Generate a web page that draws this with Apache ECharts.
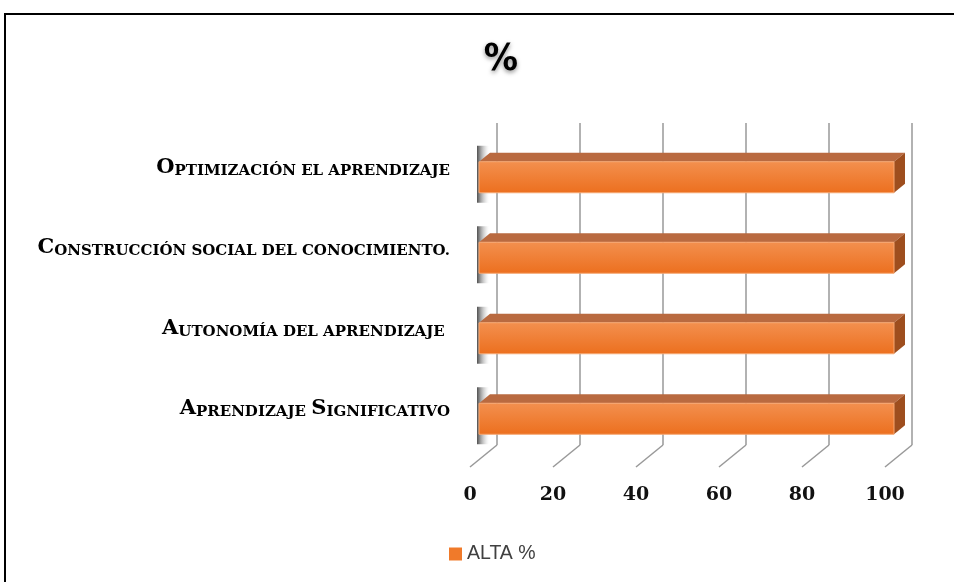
<!DOCTYPE html>
<html>
<head>
<meta charset="utf-8">
<script src="https://cdn.jsdelivr.net/npm/echarts@6/dist/echarts.min.js"></script>
<style>
  html, body { margin: 0; padding: 0; background: #fff; }
  #chart { width: 954px; height: 582px; }
</style>
</head>
<body>
<div id="chart"></div>
<script>
// bottom to top, as the category axis draws them
var categorias = [
  "Aprendizaje Significativo",
  "Autonomía del aprendizaje ",
  "Construcción social del conocimiento.",
  "Optimización el aprendizaje"
];
var alta = [100, 100, 100, 100];
var ticks = [0, 20, 40, 60, 80, 100];

// small caps like the original font: capitals big, the rest upper but smaller
function versalitas(s) {
  var out = "", run = "", kind = null;
  for (var ch of s) {
    var k = (ch !== ch.toLowerCase()) ? "b" : "s";
    if (kind && k !== kind && run) { out += "{" + kind + "|" + run + "}"; run = ""; }
    kind = k;
    run += k === "s" ? ch.toUpperCase() : ch;
  }
  if (run) out += "{" + kind + "|" + run + "}";
  return out;
}

function renderBarra(params, api) {
  var v = api.value(0), c = api.value(1);
  var a = api.coord([0, c]);
  var b = api.coord([v, c]);
  var h = 31, dx = 11, dy = -9;
  var x0 = a[0] - 18, x1 = b[0] - 18;
  var yc = a[1] + 14;
  var yt = yc - h / 2, yb = yc + h / 2;
  return {
    type: "group",
    children: [
      { // wall shadow at the left end
        type: "rect",
        shape: { x: x0 - 2, y: yt - 16, width: 12, height: h + 26 },
        style: {
          fill: new echarts.graphic.LinearGradient(0, 0, 1, 0, [
            { offset: 0, color: "rgba(70,70,70,0.95)" },
            { offset: 1, color: "rgba(200,200,200,0)" }
          ])
        }
      },
      {
        type: "polygon",
        shape: { points: [[x0, yt], [x1, yt], [x1 + dx, yt + dy], [x0 + dx, yt + dy]] },
        style: { fill: "#B96A40" }
      },
      {
        type: "polygon",
        shape: { points: [[x1, yt], [x1 + dx, yt + dy], [x1 + dx, yb + dy], [x1, yb]] },
        style: { fill: "#9E4E1E" }
      },
      {
        type: "rect",
        shape: { x: x0, y: yt, width: x1 - x0, height: h },
        style: {
          fill: new echarts.graphic.LinearGradient(0, 0, 0, 1, [
            { offset: 0, color: "#F3904F" },
            { offset: 1, color: "#EC6F1E" }
          ]),
          stroke: "#F6A772",
          lineWidth: 1
        }
      }
    ]
  };
}

function renderPiso(params, api) {
  var x = api.coord([api.value(0), 0])[0];
  var yb = params.coordSys.y + params.coordSys.height;
  return {
    type: "line",
    shape: { x1: x, y1: yb, x2: x - 27, y2: yb + 22 },
    style: { stroke: "#999", lineWidth: 1.5 }
  };
}

var chart = echarts.init(document.getElementById("chart"));
chart.setOption({
  animation: false,
  title: {
    text: "%",
    left: 496,
    top: 36,
    textAlign: "center",
    textStyle: {
      fontFamily: "DejaVu Sans Condensed, Liberation Sans, sans-serif",
      fontSize: 38,
      fontWeight: "bold",
      color: "#000",
      textShadowColor: "rgba(0,0,0,0.45)",
      textShadowBlur: 4,
      textShadowOffsetY: 2
    }
  },
  legend: {
    left: 449,
    top: 544,
    padding: 0,
    itemWidth: 13,
    itemHeight: 13,
    itemGap: 6,
    icon: "rect",
    data: ["ALTA %"],
    textStyle: { fontFamily: "Liberation Sans, sans-serif", fontSize: 19.5, color: "#404040" }
  },
  graphic: [{
    type: "rect",
    silent: true,
    shape: { x: 5, y: 14, width: 1000, height: 700 },
    style: { fill: "none", stroke: "#000", lineWidth: 2 }
  }],
  grid: [
    { left: 497, right: 42, top: 123, bottom: 137 },
    { left: 470, right: 69, top: 123, bottom: 137 }
  ],
  xAxis: [
    {
      gridIndex: 0, type: "value", min: 0, max: 100, interval: 20,
      axisLabel: { show: false }, axisLine: { show: false }, axisTick: { show: false },
      splitLine: { show: true, lineStyle: { color: "#999", width: 1.5 } }
    },
    {
      gridIndex: 1, type: "value", min: 0, max: 100, interval: 20,
      axisLine: { show: false }, axisTick: { show: false }, splitLine: { show: false },
      axisLabel: {
        margin: 41,
        fontFamily: "DejaVu Serif, serif",
        fontWeight: "bold",
        fontSize: 19,
        color: "#111"
      }
    }
  ],
  yAxis: [
    {
      gridIndex: 0, type: "category", data: categorias,
      axisLine: { show: false }, axisTick: { show: false },
      axisLabel: {
        margin: 47,
        padding: [8, 0, 0, 0],
        formatter: versalitas,
        rich: {
          b: { fontFamily: "DejaVu Serif, serif", fontWeight: "bold", fontSize: 21, lineHeight: 22, color: "#000" },
          s: { fontFamily: "DejaVu Serif, serif", fontWeight: "bold", fontSize: 15, lineHeight: 16, verticalAlign: "bottom", color: "#000" }
        }
      }
    },
    {
      gridIndex: 1, type: "category", data: categorias, show: false
    }
  ],
  series: [
    {
      name: "piso",
      type: "custom",
      xAxisIndex: 0, yAxisIndex: 0,
      renderItem: renderPiso,
      encode: { x: 0, y: 1 },
      silent: true,
      data: ticks.map(function (t) { return [t, 0]; })
    },
    {
      name: "ALTA %",
      type: "custom",
      xAxisIndex: 0, yAxisIndex: 0,
      renderItem: renderBarra,
      encode: { x: 0, y: 1 },
      itemStyle: { color: "#F07A2A" },
      data: alta.map(function (v, i) { return [v, i]; })
    }
  ]
});
</script>
</body>
</html>
